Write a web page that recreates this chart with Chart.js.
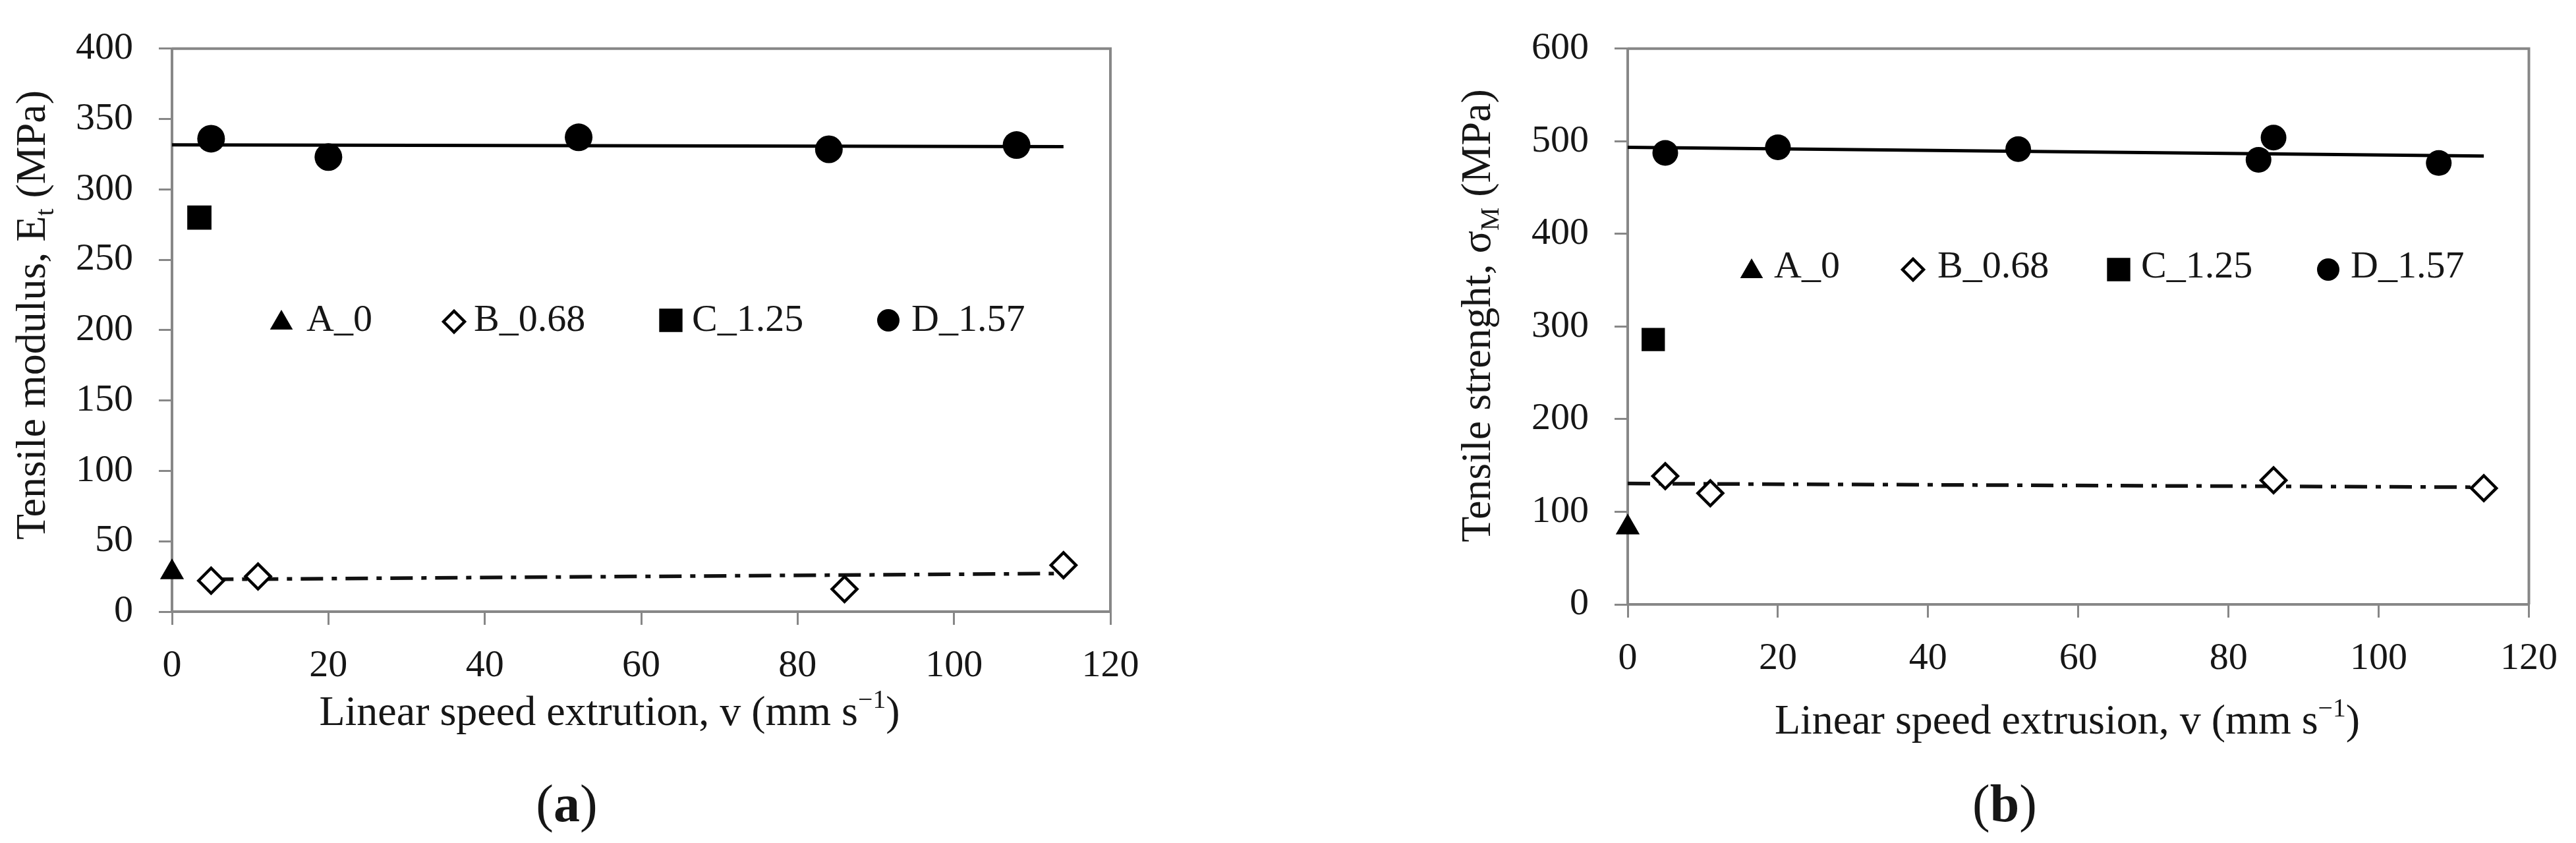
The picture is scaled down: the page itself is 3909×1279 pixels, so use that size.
<!DOCTYPE html>
<html>
<head>
<meta charset="utf-8">
<script src="https://cdn.jsdelivr.net/npm/chart.js@4.4.1/dist/chart.umd.min.js"></script>
<style>
  html, body { margin: 0; padding: 0; background: #ffffff; }
  body { width: 3909px; height: 1279px; position: relative; overflow: hidden; }
  canvas { position: absolute; top: 0; }
  #ca { left: 0; width: 1950px; height: 1279px; }
  #cb { left: 1950px; width: 1959px; height: 1279px; }
</style>
</head>
<body>
<canvas id="ca" width="1950" height="1279"></canvas>
<canvas id="cb" width="1959" height="1279"></canvas>
<script>
// ---------------- DATA ----------------
const seriesNames = ['A_0', 'B_0.68', 'C_1.25', 'D_1.57'];
const xTicksMax = 120;
const xTickStep = 20;

// Panel (a): Tensile modulus
const aMax = 400, aStep = 50;
const a_A_x = [0];                 const a_A_y = [28];
const a_B_x = [5, 11, 86, 114];    const a_B_y = [22, 25, 16, 33];
const a_C_x = [3.5];               const a_C_y = [280];
const a_D_x = [5, 20, 52, 84, 108]; const a_D_y = [336, 323, 337, 328.5, 331.5];
const a_trendD_x = [0, 114];       const a_trendD_y = [331.7, 330.4];
const a_trendB_x = [5, 114];       const a_trendB_y = [22.9, 27.1];

// Panel (b): Tensile strength
const bMax = 600, bStep = 100;
const b_A_x = [0];                 const b_A_y = [83];
const b_B_x = [5, 11, 86, 114];    const b_B_y = [138.5, 120, 134, 125.5];
const b_C_x = [3.4];               const b_C_y = [286];
const b_D_x = [5, 20, 52, 84, 86, 108]; const b_D_y = [487.5, 493.5, 491.5, 480, 504, 476.5];
const b_trendD_x = [0, 114];       const b_trendD_y = [493.5, 484];
const b_trendB_x = [0, 114];       const b_trendB_y = [130.5, 126.5];

// Titles
const a_yTitle = [{t: 'Tensile modulus, E'}, {t: 't', sub: true}, {t: ' (MPa)'}];
const a_xTitle = [{t: 'Linear speed extrution, v (mm s'}, {t: '\u22121', sup: true}, {t: ')'}];
const b_yTitle = [{t: 'Tensile strenght, \u03C3'}, {t: 'M', sub: true}, {t: ' (MPa)'}];
const b_xTitle = [{t: 'Linear speed extrusion, v (mm s'}, {t: '\u22121', sup: true}, {t: ')'}];
const a_caption = [{t: '('}, {t: 'a', bold: true}, {t: ')'}];
const b_caption = [{t: '('}, {t: 'b', bold: true}, {t: ')'}];

// ---------------- RENDERING ----------------
const FONT = '"Liberation Serif", "DejaVu Serif", serif';
const AXIS = '#878787';
const INK = '#161616';

function pts(xs, ys) { return xs.map((x, i) => ({x: x, y: ys[i]})); }

const richText = {
  id: 'richText',
  afterDraw(chart, args, opts) {
    const ctx = chart.ctx;
    (opts.items || []).forEach(it => {
      ctx.save();
      ctx.translate(it.x, it.y);
      if (it.rotate) ctx.rotate(it.rotate);
      ctx.fillStyle = INK;
      ctx.textBaseline = 'alphabetic';
      ctx.textAlign = 'left';
      let w = 0;
      const segs = it.parts.map(p => {
        const size = (p.sub || p.sup) ? it.size * 0.62 : it.size;
        const font = (p.bold ? 'bold ' : '') + size + 'px ' + FONT;
        ctx.font = font;
        const m = ctx.measureText(p.t).width;
        w += m;
        return {t: p.t, font: font, w: m, dy: p.sub ? it.size * 0.2 : (p.sup ? -it.size * 0.4 : 0)};
      });
      let x = it.align === 'left' ? 0 : -w / 2;
      segs.forEach(s => { ctx.font = s.font; ctx.fillText(s.t, x, s.dy); x += s.w; });
      ctx.restore();
    });
  }
};

const boxPlugin = {
  id: 'box',
  beforeDatasetsDraw(chart) {
    const {ctx, chartArea} = chart;
    ctx.save();
    ctx.strokeStyle = AXIS;
    ctx.lineWidth = 4;
    ctx.beginPath();
    ctx.moveTo(chartArea.left, chartArea.top);
    ctx.lineTo(chartArea.right, chartArea.top);
    ctx.lineTo(chartArea.right, chartArea.bottom);
    ctx.stroke();
    ctx.restore();
  }
};

const manualLegend = {
  id: 'manualLegend',
  afterDraw(chart, args, opts) {
    const ctx = chart.ctx;
    (opts.items || []).forEach(it => {
      const ds = chart.data.datasets[it.ds];
      ctx.save();
      ctx.fillStyle = ds.backgroundColor;
      ctx.strokeStyle = ds.borderColor;
      ctx.lineWidth = ds.borderWidth || 0;
      Chart.helpers.drawPoint(ctx, {pointStyle: ds.pointStyle, radius: it.r, rotation: 0, borderWidth: ds.borderWidth || 0}, it.mx, it.my);
      ctx.fillStyle = INK;
      ctx.font = opts.size + 'px ' + FONT;
      ctx.textBaseline = 'alphabetic';
      ctx.textAlign = 'left';
      ctx.fillText(ds.label, it.tx, it.ty);
      ctx.restore();
    });
  }
};

function makeDatasets(A, B, C, D, tD, tB, r) {
  return [
    {label: seriesNames[0], data: A, pointStyle: 'triangle', pointRadius: r.tri, backgroundColor: '#000', borderColor: '#000', borderWidth: 0, clip: false, order: 1},
    {label: seriesNames[1], data: B, pointStyle: 'rectRot', pointRadius: r.dia, backgroundColor: '#fff', borderColor: '#000', borderWidth: 4.5, clip: false, order: 1},
    {label: seriesNames[2], data: C, pointStyle: 'rect', pointRadius: r.sq, backgroundColor: '#000', borderColor: '#000', borderWidth: 0, clip: false, order: 1},
    {label: seriesNames[3], data: D, pointStyle: 'circle', pointRadius: r.circ, backgroundColor: '#000', borderColor: '#000', borderWidth: 0, clip: false, order: 1},
    {label: 'trend D', data: tD, showLine: true, pointRadius: 0, borderColor: '#000', backgroundColor: '#000', borderWidth: 5, order: 5},
    {label: 'trend B', data: tB, showLine: true, pointRadius: 0, borderColor: '#111', backgroundColor: '#111', borderWidth: 5.5, borderDash: [34, 13, 8, 13], order: 5}
  ];
}

function axisCommon(extra) {
  return Object.assign({
    type: 'linear',
    grid: {drawOnChartArea: false, drawTicks: true, tickLength: 20, color: AXIS, lineWidth: 3},
    border: {color: AXIS, width: 4}
  }, extra);
}

function makeChart(id, cfg) {
  return new Chart(document.getElementById(id), {
    type: 'scatter',
    data: {datasets: cfg.datasets},
    options: {
      responsive: false,
      animation: false,
      layout: {padding: cfg.padding},
      plugins: {
        legend: {display: false},
        tooltip: {enabled: false},
        richText: {items: cfg.texts},
        manualLegend: {size: 58, items: cfg.legend}
      },
      scales: {
        x: axisCommon({
          min: 0, max: xTicksMax,
          ticks: {stepSize: xTickStep, color: INK, font: {family: FONT, size: 58}, padding: 28, maxRotation: 0},
          afterFit(s) { s.height = cfg.xH; }
        }),
        y: axisCommon({
          min: 0, max: cfg.yMax,
          ticks: {stepSize: cfg.yStep, color: INK, font: {family: FONT, size: 58}, padding: 39},
          afterFit(s) { s.width = cfg.yW; }
        })
      }
    },
    plugins: [boxPlugin, richText, manualLegend]
  });
}

// Panel (a)
makeChart('ca', {
  datasets: makeDatasets(pts(a_A_x, a_A_y), pts(a_B_x, a_B_y), pts(a_C_x, a_C_y), pts(a_D_x, a_D_y),
                         pts(a_trendD_x, a_trendD_y), pts(a_trendB_x, a_trendB_y),
                         {tri: 21, dia: 19, sq: 26, circ: 21}),
  padding: {left: 0, top: 50, right: 265, bottom: 0},
  yW: 261, xH: 351, yMax: aMax, yStep: aStep,
  texts: [
    {parts: a_yTitle, x: 68, y: 478, size: 64, rotate: -Math.PI / 2},
    {parts: a_xTitle, x: 925, y: 1100, size: 64},
    {parts: a_caption, x: 860, y: 1246, size: 80}
  ],
  legend: [
    {ds: 0, mx: 427, my: 490, tx: 465, ty: 502, r: 20},
    {ds: 1, mx: 689, my: 488, tx: 719, ty: 502, r: 16},
    {ds: 2, mx: 1018, my: 486, tx: 1050, ty: 502, r: 25},
    {ds: 3, mx: 1348, my: 486, tx: 1383, ty: 502, r: 17}
  ]
});

// Panel (b)
makeChart('cb', {
  datasets: makeDatasets(pts(b_A_x, b_A_y), pts(b_B_x, b_B_y), pts(b_C_x, b_C_y), pts(b_D_x, b_D_y),
                         pts(b_trendD_x, b_trendD_y), pts(b_trendB_x, b_trendB_y),
                         {tri: 21, dia: 19, sq: 25, circ: 19.5}),
  padding: {left: 0, top: 70, right: 68, bottom: 0},
  yW: 520, xH: 362, yMax: bMax, yStep: bStep,
  texts: [
    {parts: b_yTitle, x: 311, y: 479, size: 64, rotate: -Math.PI / 2},
    {parts: b_xTitle, x: 1187, y: 1113, size: 64},
    {parts: b_caption, x: 1092, y: 1246, size: 80}
  ],
  legend: [
    {ds: 0, mx: 708, my: 412, tx: 742, ty: 421, r: 20},
    {ds: 1, mx: 953, my: 409, tx: 990, ty: 421, r: 16},
    {ds: 2, mx: 1265, my: 409, tx: 1299, ty: 421, r: 25},
    {ds: 3, mx: 1583, my: 409, tx: 1617, ty: 421, r: 17}
  ]
});
</script>
</body>
</html>
